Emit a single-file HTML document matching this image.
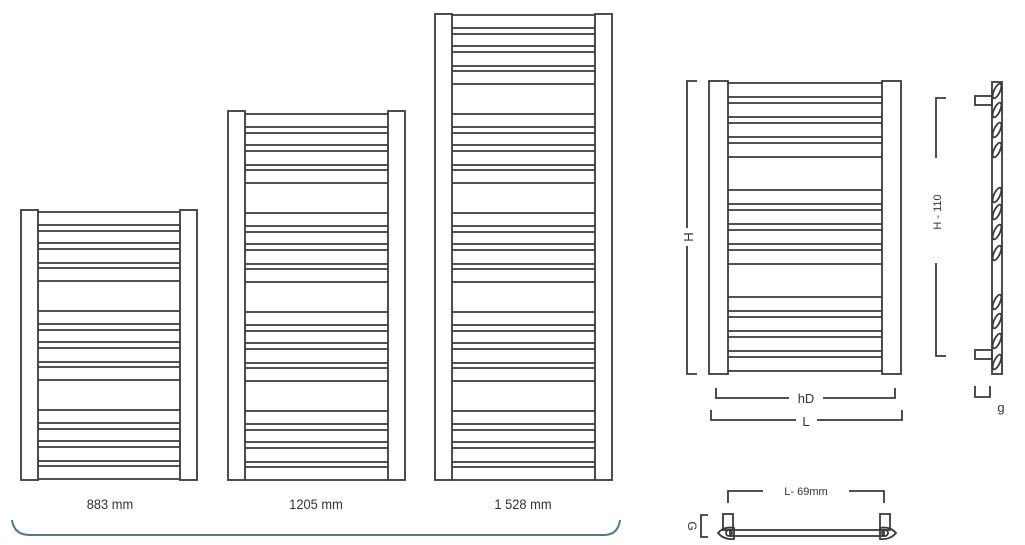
<!DOCTYPE html>
<html><head><meta charset="utf-8"><style>
html,body{margin:0;padding:0;background:#fff;width:1025px;height:545px;overflow:hidden}
svg{display:block}
text{font-family:"Liberation Sans",sans-serif;fill:#333}
</style></head><body>
<svg id="s" width="1025" height="545" viewBox="0 0 1025 545" xmlns="http://www.w3.org/2000/svg">
<g id="g" fill="none" stroke="#3a3a3a" stroke-width="1.8"></g>
<text x="110" y="509" font-size="14" text-anchor="middle" style="transform-box:fill-box;transform-origin:center;transform:scaleX(0.92)">883 mm</text>
<text x="316" y="509" font-size="14" text-anchor="middle" style="transform-box:fill-box;transform-origin:center;transform:scaleX(0.92)">1205 mm</text>
<text x="523" y="509" font-size="14" text-anchor="middle" style="transform-box:fill-box;transform-origin:center;transform:scaleX(0.92)">1 528 mm</text>
<path d="M12 520 Q14 535 30 535 L604 535 Q618 535 620 520" fill="none" stroke="#4d7a8a" stroke-width="2"/>
<text x="806" y="403" font-size="13" text-anchor="middle" fill="#555">hD</text>
<text x="806" y="426" font-size="13" text-anchor="middle" fill="#555">L</text>
<text x="1001" y="412" font-size="13" text-anchor="middle" fill="#555">g</text>
<text transform="translate(693,237) rotate(-90)" font-size="13" text-anchor="middle" fill="#555">H</text>
<text transform="translate(941,212) rotate(-90)" font-size="11" text-anchor="middle" fill="#555">H - 110</text>
<text x="806" y="495" font-size="11" text-anchor="middle" fill="#333">L- 69mm</text>
<text transform="translate(688,526) rotate(90)" font-size="12" text-anchor="middle" fill="#555">G</text>
</svg>
<script>
var g=document.getElementById('g'),NS='http://www.w3.org/2000/svg';
function el(t,a){var e=document.createElementNS(NS,t);for(var k in a)e.setAttribute(k,a[k]);g.appendChild(e);return e}
function L(x1,y1,x2,y2){el('line',{x1:x1,y1:y1,x2:x2,y2:y2})}
function P(d){el('path',{d:d})}
function rad(x1,x2,pw,top,bot,groups,gap,offs){
 el('rect',{x:x1,y:top,width:pw,height:bot-top});
 el('rect',{x:x2,y:top,width:pw,height:bot-top});
 for(var i=0;i<groups.length;i++)for(var j=0;j<offs.length;j++){var y=groups[i]+offs[j];L(x1+pw,y,x2,y)}
}
var o1=[0,13,19,31,37,51,56,69];
rad(21,180,17,210,480,[212,311,410],0,o1);
rad(228,388,17,111,480,[114,213,312,411],0,o1);
rad(435,595,17,14,480,[15,114,213,312,411],0,o1);
var o2=[0,14,20,34,40,54,60,74];
rad(709,882,19,81,374,[83,190,297],0,o2);
el('rect',{x:992,y:82,width:10,height:292});
el('rect',{x:975,y:96,width:17,height:9});
el('rect',{x:975,y:350,width:17,height:9});
[91,110,130,150,195,212,232,253,302,321,341,362].forEach(function(y){el('ellipse',{cx:997,cy:y,rx:3,ry:8,transform:'rotate(25 997 '+y+')'})});
P('M697 81 L687 81 L687 228 M687 246 L687 374 L697 374');
P('M946 98 L936 98 L936 158 M936 263 L936 356 L946 356');
P('M716 388 L716 398 L789 398 M823 398 L895 398 L895 388');
P('M711 410 L711 420 L796 420 M817 420 L902 420 L902 410');
P('M975 386 L975 397 L990 397 L990 386');
P('M728 503 L728 491 L763 491 M849 491 L884 491 L884 503');
P('M708 515 L701 515 L701 537 L708 537');
el('rect',{x:730,y:530,width:154,height:6});
el('rect',{x:723,y:514,width:10,height:16});
el('rect',{x:880,y:514,width:10,height:16});
P('M718 533 Q724 526 734 528 L734 539 Q724 540 718 533 Z');
P('M896 533 Q890 526 880 528 L880 539 Q890 540 896 533 Z');
el('circle',{cx:729,cy:533,r:3});
el('circle',{cx:885,cy:533,r:3});
</script>
</body></html>
